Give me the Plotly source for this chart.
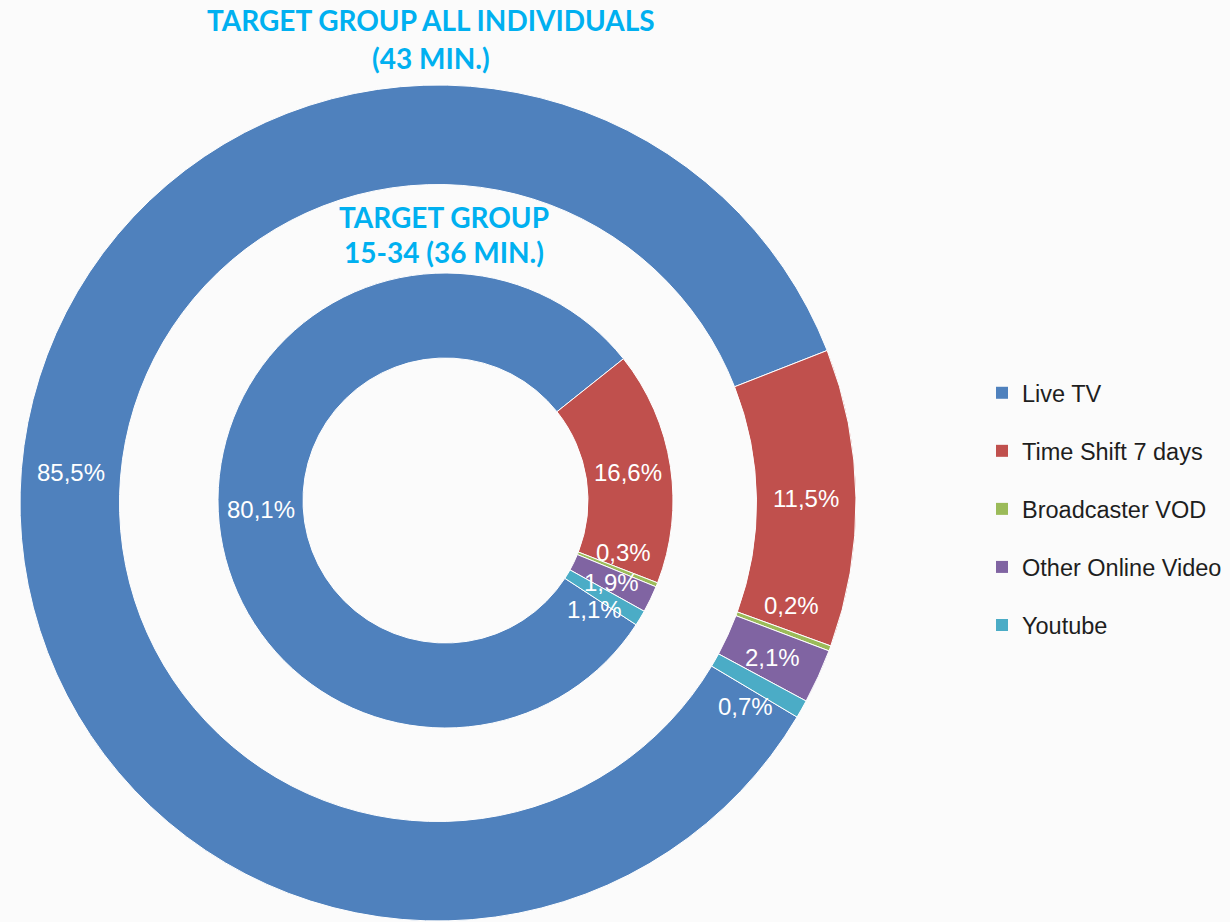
import math
import plotly.graph_objects as go

# ---------------- data ----------------
categories = ["Live TV", "Time Shift 7 days", "Broadcaster VOD", "Other Online Video", "Youtube"]
all_individuals = [85.5, 11.5, 0.2, 2.1, 0.7]      # outer ring (43 min.)
age_15_34 = [80.1, 16.6, 0.3, 1.9, 1.1]            # inner ring (36 min.)
outer_title = ["TARGET GROUP ALL INDIVIDUALS", "(43 MIN.)"]
inner_title = ["TARGET GROUP", "15-34 (36 MIN.)"]

# ---------------- style ----------------
colors = ["#4F81BD", "#C0504D", "#9BBB59", "#8064A2", "#4BACC6"]
title_color = "#00B0F0"
W, H = 1230, 922

outer_c, outer_r, outer_hole_r = (438.0, 503.0), 418.0, 318.5
inner_c, inner_r, inner_hole_r = (445.5, 500.5), 227.5, 142.5
outer_rot, inner_rot = 120.8, 123.1
outer_sep, inner_sep = 8.7, 10.0   # min angular gap between data labels


def domain(c, r):
    cx, cy = c
    return dict(x=[(cx - r) / W, (cx + r) / W],
                y=[(H - cy - r) / H, (H - cy + r) / H])


def fmt(v):
    return f"{v:.1f}".replace(".", ",") + "%"


def label_angles(values, rotation, sep):
    total = sum(values)
    a = rotation
    angs = []
    for v in values:
        span = 360.0 * v / total
        angs.append((a + span / 2.0) % 360.0)
        a += span
    order = sorted(range(len(angs)), key=lambda i: angs[i])
    for _ in range(300):
        for k in range(len(order) - 1):
            i, j = order[k], order[k + 1]
            d = angs[j] - angs[i]
            if d < sep:
                push = (sep - d) / 2.0
                angs[i] -= push
                angs[j] += push
    return angs


def label_annotations(values, c, r_out, r_in, rotation, sep):
    cx, cy = c
    rr = (r_out + r_in) / 2.0
    anns = []
    for v, ang in zip(values, label_angles(values, rotation, sep)):
        t = math.radians(ang)
        px = cx + rr * math.sin(t)
        py = cy - rr * math.cos(t)
        anns.append(dict(x=px / W, y=1 - py / H, xref="paper", yref="paper",
                         text=fmt(v), showarrow=False, xanchor="center", yanchor="middle",
                         font=dict(family="Liberation Sans, Arial, sans-serif", size=24, color="white")))
    return anns


fig = go.Figure()

fig.add_trace(go.Pie(
    labels=categories, values=all_individuals, sort=False, direction="clockwise",
    rotation=outer_rot, hole=outer_hole_r / outer_r, domain=domain(outer_c, outer_r),
    marker=dict(colors=colors, line=dict(color="white", width=1)),
    textinfo="none", hoverinfo="label+percent", showlegend=False, name="All individuals"))

fig.add_trace(go.Pie(
    labels=categories, values=age_15_34, sort=False, direction="clockwise",
    rotation=inner_rot, hole=inner_hole_r / inner_r, domain=domain(inner_c, inner_r),
    marker=dict(colors=colors, line=dict(color="white", width=1)),
    textinfo="none", hoverinfo="label+percent", showlegend=False, name="15-34"))

# legend entries
for name, col in zip(categories, colors):
    fig.add_trace(go.Scatter(x=[None], y=[None], mode="markers", name=name, legendgroup=name,
                             marker=dict(symbol="square", size=12, color=col), showlegend=True))

anns = []
anns += label_annotations(all_individuals, outer_c, outer_r, outer_hole_r, outer_rot, outer_sep)
anns += label_annotations(age_15_34, inner_c, inner_r, inner_hole_r, inner_rot, inner_sep)

title_font = dict(family="Lato, Open Sans, sans-serif", size=28, color=title_color, weight="bold")
for txt, (px, py) in zip(outer_title, [(431, 20), (431, 58)]):
    anns.append(dict(x=px / W, y=1 - py / H, xref="paper", yref="paper", text=txt,
                     showarrow=False, xanchor="center", yanchor="middle", font=title_font))
for txt, (px, py) in zip(inner_title, [(444, 217), (444, 252)]):
    anns.append(dict(x=px / W, y=1 - py / H, xref="paper", yref="paper", text=txt,
                     showarrow=False, xanchor="center", yanchor="middle", font=title_font))

fig.update_layout(
    width=W, height=H, margin=dict(l=0, r=0, t=0, b=0),
    paper_bgcolor="#fbfbfb", plot_bgcolor="rgba(0,0,0,0)",
    xaxis=dict(visible=False), yaxis=dict(visible=False),
    annotations=anns,
    legend=dict(x=982 / W, y=1 - 371 / H, xanchor="left", yanchor="top",
                font=dict(family="Liberation Sans, Arial, sans-serif", size=23.5, color="#1e1e1e"),
                tracegroupgap=24.5, bgcolor="rgba(0,0,0,0)", itemclick=False),
)

fig.write_html("out.html", config={"displayModeBar": False},
               post_script="document.body.style.margin='0';")
